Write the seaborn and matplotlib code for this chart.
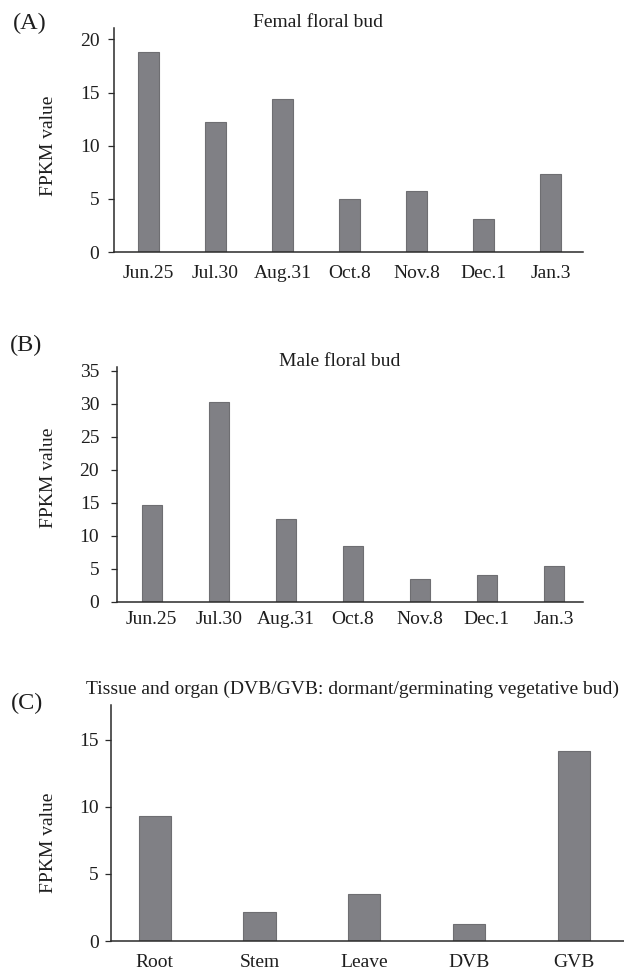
import matplotlib
matplotlib.use("Agg")
import matplotlib.pyplot as plt
import seaborn as sns
import pandas as pd

# ---- data ----
dates = ["Jun.25", "Jul.30", "Aug.31", "Oct.8", "Nov.8", "Dec.1", "Jan.3"]
female_fpkm = [18.8, 12.25, 14.35, 4.95, 5.7, 3.1, 7.3]
male_fpkm = [14.7, 30.3, 12.55, 8.4, 3.45, 4.0, 5.4]
tissues = ["Root", "Stem", "Leave", "DVB", "GVB"]
tissue_fpkm = [9.35, 2.15, 3.5, 1.3, 14.15]

titles = ["Femal floral bud", "Male floral bud",
          "Tissue and organ (DVB/GVB: dormant/germinating vegetative bud)"]
panel_labels = ["(A)", "(B)", "(C)"]
ylabel = "FPKM value"
yticks_A = [0, 5, 10, 15, 20]
yticks_B = [0, 5, 10, 15, 20, 25, 30, 35]
yticks_C = [0, 5, 10, 15]

sns.set_theme(style="white")
plt.rcParams["font.family"] = ["Liberation Serif", "DejaVu Serif"]

W, H = 624, 972
fig = plt.figure(figsize=(W / 100, H / 100), dpi=100)

def px_axes(left, right, top, bottom):
    return fig.add_axes([left / W, 1 - bottom / H, (right - left) / W, (bottom - top) / H])

bar_color = "#808085"
edge_color = "#6e6e72"
text_color = "#1e1e1e"
FS = 14

specs = [
    dict(box=(114, 582.7, 28.3, 252), cats=dates, vals=female_fpkm, ylim=21.04,
         yticks=yticks_A, xlim=(-0.515, 6.48), width=0.30, xpad=9.0, ypad=6,
         ylab_xy=((57 - 114) / 468.7, 0.475),
         title_xy=(318.3, 27.3), plab_xy=(29.7, 29.5)),
    dict(box=(117.3, 582.7, 366.7, 601.7), cats=dates, vals=male_fpkm, ylim=35.6,
         yticks=yticks_B, xlim=(-0.515, 6.433), width=0.30, xpad=6.5, ypad=8.5,
         ylab_xy=((57 - 117.3) / 465.4, 0.528),
         title_xy=(340, 365.7), plab_xy=(26.3, 351.5)),
    dict(box=(110.7, 624, 705, 941), cats=tissues, vals=tissue_fpkm, ylim=17.6,
         yticks=yticks_C, xlim=(-0.42, 4.48), width=0.308, xpad=9.0, ypad=4,
         ylab_xy=((57 - 110.7) / 513.3, 0.414),
         title_xy=(352.2, 694), plab_xy=(27.2, 709.5)),
]

for i, s in enumerate(specs):
    ax = px_axes(*s["box"])
    df = pd.DataFrame({"cat": s["cats"], "val": s["vals"]})
    sns.barplot(data=df, x="cat", y="val", ax=ax, color=bar_color,
                width=s["width"], saturation=1, edgecolor=edge_color,
                linewidth=0.8, errorbar=None)
    ax.set_xlim(*s["xlim"])
    ax.set_ylim(0, s["ylim"])
    ax.set_yticks(s["yticks"])
    ax.set_xlabel("")
    ax.set_ylabel(ylabel, fontsize=FS, color=text_color)
    ax.yaxis.set_label_coords(*s["ylab_xy"])
    for sp in ["top", "right"]:
        ax.spines[sp].set_visible(False)
    for sp in ["left", "bottom"]:
        ax.spines[sp].set_color("#2a2a2a")
        ax.spines[sp].set_linewidth(1.1)
    ax.tick_params(axis="y", left=True, length=4.5, width=0.9, color="#2a2a2a",
                   labelsize=FS, labelcolor=text_color, pad=s["ypad"])
    ax.tick_params(axis="x", bottom=False, length=0, labelsize=FS,
                   labelcolor=text_color, pad=s["xpad"])
    tx, ty = s["title_xy"]
    fig.text(tx / W, 1 - ty / H, titles[i], ha="center", va="baseline",
             fontsize=FS, color=text_color)
    lx, ly = s["plab_xy"]
    fig.text(lx / W, 1 - ly / H, panel_labels[i], ha="center", va="baseline",
             fontsize=17.5, color=text_color)

fig.savefig("out.png", dpi=100)
